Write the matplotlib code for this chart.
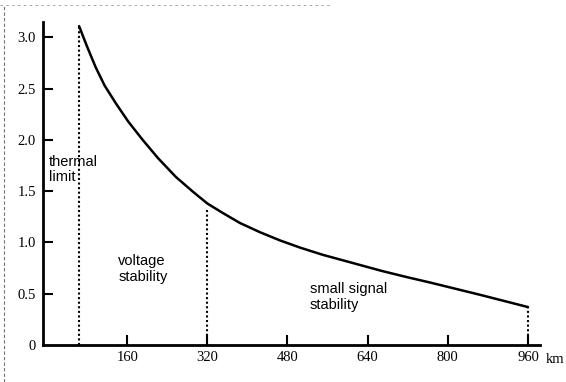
import matplotlib
matplotlib.use("Agg")
import matplotlib.pyplot as plt
from matplotlib.lines import Line2D

# curve (distance in km, loading in p.u.)
dist_km = [64, 80, 97, 115, 137, 162, 191, 222, 257, 290, 320, 350, 385, 425, 465,
           505, 550, 610, 670, 720, 764, 814, 864, 912, 960]
loading = [3.11, 2.91, 2.71, 2.53, 2.36, 2.18, 2.00, 1.82, 1.64, 1.50, 1.38, 1.29, 1.19,
           1.10, 1.02, 0.95, 0.88, 0.80, 0.72, 0.66, 0.61, 0.55, 0.49, 0.43, 0.37]

limit_km = [64, 320, 960]
limit_val = [3.11, 1.33, 0.36]

x_ticks = [160, 320, 480, 640, 800, 960]
y_ticks = [0, 0.5, 1.0, 1.5, 2.0, 2.5, 3.0]
y_labels = ["0", "0.5", "1.0", "1.5", "2.0", "2.5", "3.0"]

regions = ["thermal\nlimit", "voltage\nstability", "small signal\nstability"]
region_x = [4, 142, 525]
region_y = [1.71, 0.74, 0.47]

fig = plt.figure(figsize=(5.66, 3.82), dpi=100)
ax = fig.add_axes([43 / 566, 1 - 345 / 382, 497 / 566, 323 / 382])

ax.plot(dist_km, loading, color="black", lw=1.8, solid_capstyle="round",
        solid_joinstyle="round")
for xk, yv in zip(limit_km, limit_val):
    ax.plot([xk, xk], [0, yv], color="black", lw=1.5, ls=(0, (1, 1.2)))

for txt, tx, ty in zip(regions, region_x, region_y):
    ax.text(tx, ty, txt, family="Liberation Sans", fontsize=10.5,
            ha="left", va="center", linespacing=1.15)

ax.set_xlim(-8, 984)
ax.set_ylim(0, 3.15)
ax.set_xticks(x_ticks)
ax.set_xticklabels([str(v) for v in x_ticks])
ax.set_yticks(y_ticks)
ax.set_yticklabels(y_labels)

for lbl in ax.get_xticklabels() + ax.get_yticklabels():
    lbl.set_family("Liberation Serif")
    lbl.set_fontsize(10.5)

ax.tick_params(axis="both", direction="in", length=7, width=1.5)
ax.tick_params(axis="x", pad=4)
ax.tick_params(axis="y", pad=5)
ax.yaxis.get_major_ticks()[0].tick1line.set_visible(False)

for s in ["top", "right"]:
    ax.spines[s].set_visible(False)
for s in ["left", "bottom"]:
    ax.spines[s].set_linewidth(2)

ax.text(1.012, -0.045, "km", transform=ax.transAxes, family="Liberation Serif",
        fontsize=10.5, ha="left", va="center")

# faint dashed scan borders
fig.add_artist(Line2D([4 / 566, 4 / 566], [0, 1 - 5 / 382], transform=fig.transFigure,
                      color="0.45", lw=0.8, ls=(0, (3, 2))))
fig.add_artist(Line2D([0, 330 / 566], [1 - 5 / 382, 1 - 5 / 382], transform=fig.transFigure,
                      color="0.6", lw=0.6, ls=(0, (3, 4))))

fig.savefig("out.png", dpi=100)
